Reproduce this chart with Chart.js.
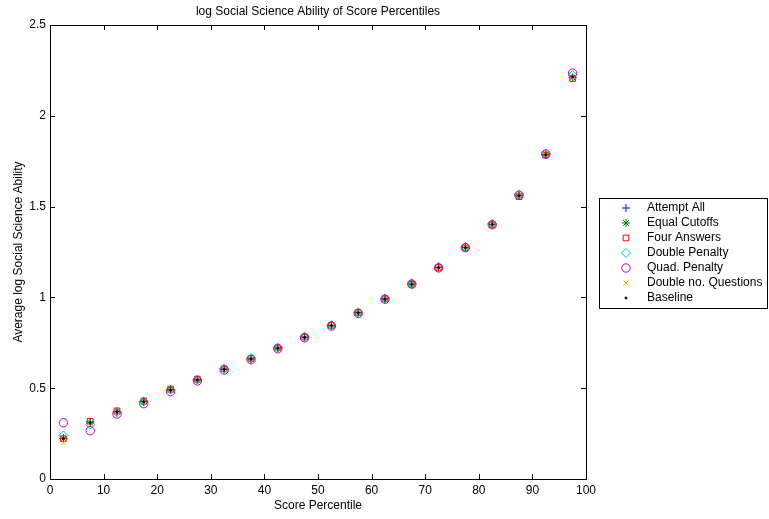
<!DOCTYPE html>
<html>
<head>
<meta charset="utf-8">
<script src="https://cdn.jsdelivr.net/npm/chart.js@4.4.1/dist/chart.umd.min.js"></script>
<style>
  html, body { margin: 0; padding: 0; background: #fff; }
  #wrap { width: 769px; height: 519px; position: relative; }
</style>
</head>
<body>
<div id="wrap"><canvas id="c" width="769" height="519"></canvas></div>
<script>
const titleText = 'log Social Science Ability of Score Percentiles';
const xLabel = 'Score Percentile';
const yLabel = 'Average log Social Science Ability';
const percentiles = [2.5,7.5,12.5,17.5,22.5,27.5,32.5,37.5,42.5,47.5,52.5,57.5,62.5,67.5,72.5,77.5,82.5,87.5,92.5,97.5];
const xTicks = [0,10,20,30,40,50,60,70,80,90,100];
const yTicks = [0,0.5,1,1.5,2,2.5];
const seriesNames = ['Attempt All','Equal Cutoffs','Four Answers','Double Penalty','Quad. Penalty','Double no. Questions','Baseline'];
const attemptAll        = [0.225,0.315,0.372,0.428,0.492,0.547,0.605,0.662,0.721,0.781,0.845,0.916,0.992,1.073,1.165,1.274,1.402,1.56,1.785,2.21];
const equalCutoffs      = [0.222,0.31,0.37,0.425,0.49,0.545,0.604,0.661,0.72,0.78,0.844,0.915,0.99,1.072,1.164,1.274,1.402,1.56,1.785,2.21];
const fourAnswers       = [0.222,0.318,0.375,0.43,0.495,0.55,0.607,0.664,0.722,0.782,0.846,0.916,0.992,1.072,1.164,1.272,1.40,1.555,1.783,2.205];
const doublePenalty     = [0.24,0.3,0.368,0.428,0.492,0.548,0.608,0.666,0.725,0.785,0.848,0.918,0.994,1.078,1.168,1.278,1.405,1.565,1.79,2.225];
const quadPenalty       = [0.31,0.266,0.358,0.415,0.482,0.54,0.6,0.657,0.717,0.777,0.842,0.912,0.99,1.073,1.162,1.274,1.40,1.563,1.79,2.235];
const doubleNoQuestions = [0.2,0.31,0.37,0.425,0.49,0.545,0.604,0.661,0.72,0.78,0.844,0.915,0.99,1.072,1.164,1.274,1.402,1.56,1.785,2.22];
const baseline          = [0.222,0.31,0.37,0.425,0.49,0.545,0.604,0.661,0.72,0.78,0.844,0.915,0.99,1.072,1.164,1.274,1.402,1.56,1.785,2.215];

const styles = [
  {color:'#0000ff', pointStyle:'cross', radius:4},
  {color:'#008000', pointStyle:'star', radius:4},
  {color:'#ff0000', pointStyle:'rect', radius:4},
  {color:'#00bfbf', pointStyle:'rectRot', radius:4.5},
  {color:'#bf00bf', pointStyle:'circle', radius:4.2},
  {color:'#bfbf00', pointStyle:'crossRot', radius:3.5},
  {color:'#000000', pointStyle:'circle', radius:1, fill:true}
];
const allSeries = [attemptAll,equalCutoffs,fourAnswers,doublePenalty,quadPenalty,doubleNoQuestions,baseline];

const datasets = allSeries.map((vals,i)=>({
  label: seriesNames[i],
  order: allSeries.length - i,
  data: percentiles.map((x,j)=>({x:x,y:vals[j]})),
  showLine:false,
  pointStyle: styles[i].pointStyle,
  pointRadius: styles[i].radius,
  pointBorderColor: styles[i].color,
  pointBackgroundColor: styles[i].fill ? styles[i].color : 'rgba(0,0,0,0)',
  pointBorderWidth: 1,
  borderColor: styles[i].color,
  backgroundColor: styles[i].fill ? styles[i].color : 'rgba(0,0,0,0)'
}));

const FONT = '"Liberation Sans", Arial, sans-serif';
const FS = 12;

const framePlugin = {
  id:'frame',
  afterDraw(chart){
    const ctx = chart.ctx, a = chart.chartArea;
    const xs = chart.scales.x, ys = chart.scales.y;
    ctx.save();
    ctx.strokeStyle = '#000';
    ctx.lineWidth = 1;
    ctx.strokeRect(Math.round(a.left)+0.5, Math.round(a.top)+0.5, Math.round(a.right-a.left), Math.round(a.bottom-a.top));
    const tl = 5;
    ctx.beginPath();
    xTicks.forEach(v=>{
      const px = Math.round(xs.getPixelForValue(v))+0.5;
      ctx.moveTo(px, a.bottom); ctx.lineTo(px, a.bottom-tl);
      ctx.moveTo(px, a.top); ctx.lineTo(px, a.top+tl);
    });
    yTicks.forEach(v=>{
      const py = Math.round(ys.getPixelForValue(v))+0.5;
      ctx.moveTo(a.left, py); ctx.lineTo(a.left+tl, py);
      ctx.moveTo(a.right, py); ctx.lineTo(a.right-tl, py);
    });
    ctx.stroke();
    ctx.fillStyle = '#000';
    ctx.font = FS + 'px ' + FONT;
    ctx.textAlign = 'center';
    ctx.textBaseline = 'middle';
    ctx.fillText(titleText, (a.left+a.right)/2, 12);
    ctx.fillText(xLabel, (a.left+a.right)/2, 506);
    ctx.save();
    ctx.translate(19, (a.top+a.bottom)/2);
    ctx.rotate(-Math.PI/2);
    ctx.fillText(yLabel, 0, 0);
    ctx.restore();
    // legend
    const lx = 599, ly = 198, lw = 168, lh = 110, rowH = 15;
    ctx.fillStyle = '#fff';
    ctx.fillRect(lx, ly, lw, lh);
    ctx.strokeRect(lx+0.5, ly+0.5, lw, lh);
    ctx.textAlign = 'left';
    seriesNames.forEach((name,i)=>{
      const cy = ly + 10 + i*rowH;
      const st = styles[i];
      ctx.strokeStyle = st.color;
      ctx.fillStyle = st.fill ? st.color : 'rgba(0,0,0,0)';
      ctx.lineWidth = 1;
      Chart.helpers.drawPoint(ctx, {pointStyle: st.pointStyle, radius: st.radius, borderWidth:1}, 626, cy);
      ctx.fillStyle = '#000';
      ctx.fillText(name, 647, cy);
    });
    ctx.restore();
  }
};

new Chart(document.getElementById('c'), {
  type:'scatter',
  data:{datasets},
  options:{
    responsive:false,
    animation:false,
    devicePixelRatio:1,
    layout:{padding:{left:0,right:183,top:25,bottom:0}},
    plugins:{legend:{display:false}, tooltip:{enabled:false}, title:{display:false}},
    scales:{
      x:{
        type:'linear', min:0, max:100,
        afterBuildTicks(s){ s.ticks = xTicks.map(v=>({value:v})); },
        afterFit(s){ s.height = 40; },
        grid:{display:false, drawTicks:false},
        border:{display:false},
        ticks:{color:'#000', font:{family:FONT, size:FS}, padding:4, maxRotation:0}
      },
      y:{
        type:'linear', min:0, max:2.5,
        afterBuildTicks(s){ s.ticks = yTicks.map(v=>({value:v})); },
        afterFit(s){ s.width = 50; },
        grid:{display:false, drawTicks:false},
        border:{display:false},
        ticks:{color:'#000', font:{family:FONT, size:FS}, padding:4, callback:v=>String(v)}
      }
    }
  },
  plugins:[framePlugin]
});
</script>
</body>
</html>
